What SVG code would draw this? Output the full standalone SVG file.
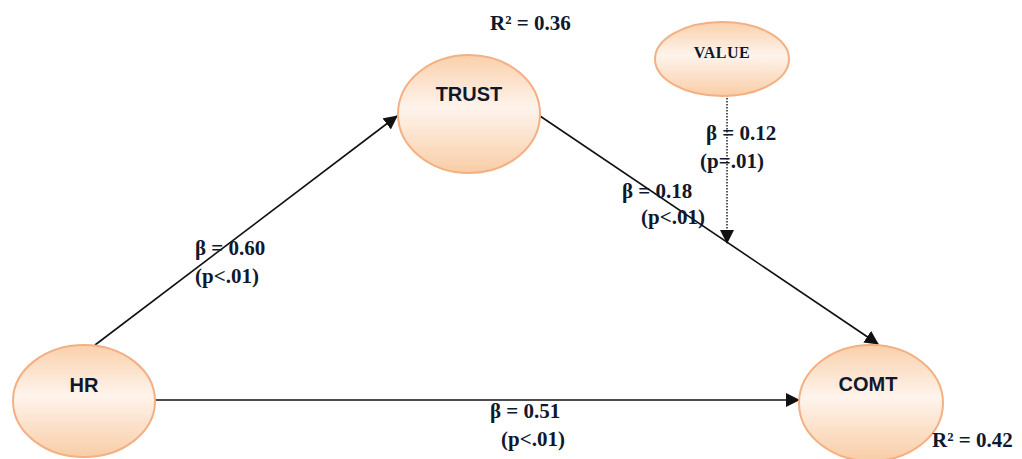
<svg xmlns="http://www.w3.org/2000/svg" width="1022" height="459" viewBox="0 0 1022 459">
<style>
.node{stroke:#f2b083;stroke-width:2;fill:url(#g)}
.nl{font-family:"Liberation Sans",Arial,sans-serif;font-weight:bold;font-size:20px;fill:#10182e;text-anchor:middle}
.vl{font-family:"Liberation Serif","Times New Roman",serif;font-weight:bold;font-size:16px;fill:#10182e;text-anchor:middle}
.lb{font-family:"Liberation Serif","Times New Roman",serif;font-weight:bold;font-size:21px;fill:#10182e}
.c{stroke:#111;stroke-width:1.6;fill:none}
.d{stroke:#111;stroke-width:1.4;fill:none;stroke-dasharray:1.5 1.5}
</style>
<defs>
<linearGradient id="g" x1="0" y1="0" x2="0" y2="1">
<stop offset="0" stop-color="#fad0ab"/>
<stop offset="0.45" stop-color="#fef4ec"/>
<stop offset="1" stop-color="#f9cda6"/>
</linearGradient>
<marker id="a2" markerWidth="14" markerHeight="14" refX="13" refY="7" orient="auto" markerUnits="userSpaceOnUse" viewBox="0 0 14 14">
<path d="M0,0 L14,7 L0,14 Z" fill="#111"/>
</marker>
</defs>
<g id="connectors">
<line class="c" x1="95" y1="345" x2="397" y2="116" marker-end="url(#a2)"/>
<line class="c" x1="540" y1="116" x2="878" y2="344" marker-end="url(#a2)"/>
<line class="c" x1="155" y1="400" x2="799" y2="400" marker-end="url(#a2)"/>
<line class="d" x1="727" y1="92" x2="727" y2="243" marker-end="url(#a2)"/>
</g>
<g id="HR">
<ellipse class="node" cx="84" cy="401" rx="71" ry="56"/>
<text class="nl" x="84" y="392">HR</text>
</g>
<g id="TRUST">
<ellipse class="node" cx="469" cy="114" rx="71" ry="59"/>
<text class="nl" x="469" y="101">TRUST</text>
</g>
<g id="VALUE">
<ellipse class="node" cx="722" cy="59" rx="67" ry="37"/>
<text class="vl" x="722" y="58" letter-spacing="0.5">VALUE</text>
</g>
<g id="COMT">
<ellipse class="node" cx="871" cy="403" rx="72" ry="58"/>
<text class="nl" x="868" y="391">COMT</text>
</g>
<g id="labels">
<text class="lb" x="490" y="30">R² = 0.36</text>
<text class="lb" x="706" y="140">β = 0.12</text>
<text class="lb" x="700" y="168">(p=.01)</text>
<text class="lb" x="622" y="198">β = 0.18</text>
<text class="lb" x="641" y="224">(p&lt;.01)</text>
<text class="lb" x="195" y="255">β = 0.60</text>
<text class="lb" x="195" y="283">(p&lt;.01)</text>
<text class="lb" x="490" y="418">β = 0.51</text>
<text class="lb" x="501" y="446">(p&lt;.01)</text>
<text class="lb" x="932" y="447">R² = 0.42</text>
</g>
</svg>
